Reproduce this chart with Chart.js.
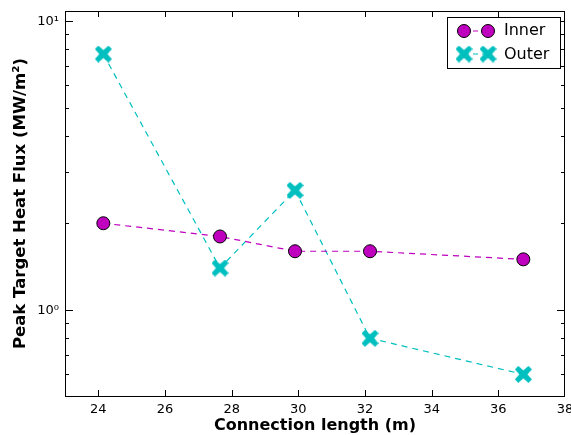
<!DOCTYPE html>
<html>
<head>
<meta charset="utf-8">
<script src="https://cdn.jsdelivr.net/npm/chart.js@4/dist/chart.umd.min.js"></script>
<style>
  html, body { margin: 0; padding: 0; background: #fff; }
  #wrap { width: 571px; height: 435px; }
</style>
</head>
<body>
<div id="wrap"><canvas id="fluxChart" width="571" height="435"></canvas></div>
<script>
// Data
const connLength = [24.15, 27.65, 29.9, 32.15, 36.75];
const innerFlux = [2.0, 1.8, 1.6, 1.6, 1.5];
const outerFlux = [7.7, 1.4, 2.6, 0.8, 0.6];
const xTicks = [24, 26, 28, 30, 32, 34, 36, 38];
const yTicks = [0.6, 0.7, 0.8, 0.9, 1, 2, 3, 4, 5, 6, 7, 8, 9, 10];

const magenta = '#bf00bf';
const cyan = '#00bfbf';
const font = 'DejaVu Sans';
const dash = [6, 5];

// filled "X" marker like matplotlib's 'X'
function makeX(size, color) {
    const c = document.createElement('canvas');
    c.width = size; c.height = size;
    const g = c.getContext('2d');
    const s = size / 2, w = size * 0.2;
    g.translate(s, s);
    g.fillStyle = color;
    g.beginPath();
    const pts = [[-s + w, -s], [0, -w * 1.2], [s - w, -s], [s, -s + w], [w * 1.2, 0], [s, s - w],
                 [s - w, s], [0, w * 1.2], [-s + w, s], [-s, s - w], [-w * 1.2, 0], [-s, -s + w]];
    pts.forEach((p, i) => i ? g.lineTo(p[0], p[1]) : g.moveTo(p[0], p[1]));
    g.closePath();
    g.fill();
    return c;
}
const xMarker = makeX(17, cyan);

function drawCircle(ctx, x, y) {
    ctx.beginPath();
    ctx.arc(x, y, 6.5, 0, Math.PI * 2);
    ctx.fillStyle = magenta;
    ctx.fill();
    ctx.lineWidth = 1;
    ctx.strokeStyle = '#000';
    ctx.stroke();
}

// box, inward ticks and legend, matplotlib style
const framePlugin = {
    id: 'frame',
    afterDatasetsDraw(chart) {
        const { ctx, chartArea: a, scales } = chart;
        ctx.save();
        ctx.strokeStyle = '#000';
        ctx.lineWidth = 1;
        ctx.strokeRect(a.left + 0.5, a.top + 0.5, a.right - a.left - 1, a.bottom - a.top);
        ctx.beginPath();
        xTicks.forEach(v => {
            const px = Math.round(scales.x.getPixelForValue(v)) + 0.5;
            if (px > a.right) return;
            ctx.moveTo(px, a.bottom); ctx.lineTo(px, a.bottom - 6);
            ctx.moveTo(px, a.top); ctx.lineTo(px, a.top + 6);
        });
        yTicks.forEach(v => {
            const py = Math.round(scales.y.getPixelForValue(v)) + 0.5;
            const len = (v === 1 || v === 10) ? 8 : 4;
            ctx.moveTo(a.left, py); ctx.lineTo(a.left + len, py);
            ctx.moveTo(a.right, py); ctx.lineTo(a.right - len, py);
        });
        ctx.stroke();

        // legend
        const lx = 447, ly = 17, lw = 113, lh = 51;
        ctx.fillStyle = '#fff';
        ctx.fillRect(lx, ly, lw, lh);
        ctx.strokeRect(lx + 0.5, ly + 0.5, lw, lh);
        ctx.setLineDash([5, 4]);
        ctx.strokeStyle = magenta;
        ctx.beginPath(); ctx.moveTo(464, 31); ctx.lineTo(488, 31); ctx.stroke();
        ctx.strokeStyle = cyan;
        ctx.beginPath(); ctx.moveTo(464, 54); ctx.lineTo(488, 54); ctx.stroke();
        ctx.setLineDash([]);
        drawCircle(ctx, 464, 31);
        drawCircle(ctx, 488, 31);
        ctx.drawImage(xMarker, 464 - 8.5, 54 - 8.5);
        ctx.drawImage(xMarker, 488 - 8.5, 54 - 8.5);
        ctx.fillStyle = '#000';
        ctx.font = '16px "' + font + '"';
        ctx.textBaseline = 'middle';
        ctx.fillText('Inner', 504, 31);
        ctx.fillText('Outer', 504, 55);
        ctx.restore();
    }
};

const fluxCtx = document.getElementById('fluxChart').getContext('2d');
const fluxChart = new Chart(fluxCtx, {
    type: 'line',
    data: {
        datasets: [{
            label: 'Inner',
            data: connLength.map((x, i) => ({ x: x, y: innerFlux[i] })),
            borderColor: magenta,
            borderWidth: 1.2,
            borderDash: dash,
            pointStyle: 'circle',
            pointRadius: 6.5,
            pointBackgroundColor: magenta,
            pointBorderColor: '#000',
            pointBorderWidth: 1,
            tension: 0
        }, {
            label: 'Outer',
            data: connLength.map((x, i) => ({ x: x, y: outerFlux[i] })),
            borderColor: cyan,
            borderWidth: 1.2,
            borderDash: dash,
            pointStyle: xMarker,
            pointRadius: 8.5,
            tension: 0
        }]
    },
    options: {
        responsive: false,
        animation: false,
        layout: { autoPadding: false, padding: { top: 11, right: 6, left: 0, bottom: 0 } },
        plugins: {
            legend: { display: false },
            tooltip: { enabled: false }
        },
        scales: {
            x: {
                type: 'linear',
                min: 23,
                max: 38,
                afterBuildTicks: s => { s.ticks = xTicks.map(v => ({ value: v })); },
                afterFit: s => { s.height = 39; s.paddingRight = 0; s.paddingLeft = 0; },
                grid: { display: false, drawTicks: false },
                border: { display: false },
                ticks: {
                    color: '#000',
                    padding: 6,
                    maxRotation: 0,
                    autoSkip: false,
                    font: { family: font, size: 13 }
                },
                title: {
                    display: true,
                    text: 'Connection length (m)',
                    color: '#000',
                    padding: { top: 2, bottom: 0 },
                    font: { family: font, size: 16, weight: 'bold' }
                }
            },
            y: {
                type: 'logarithmic',
                min: 0.505,
                max: 10.85,
                afterBuildTicks: s => { s.ticks = yTicks.map(v => ({ value: v })); },
                afterFit: s => { s.width = 65; s.paddingTop = 0; s.paddingBottom = 0; },
                grid: { display: false, drawTicks: false },
                border: { display: false },
                ticks: {
                    color: '#000',
                    padding: 6,
                    autoSkip: false,
                    font: { family: font, size: 13 },
                    callback: v => v === 1 ? '10\u2070' : (v === 10 ? '10\u00b9' : '')
                },
                title: {
                    display: true,
                    text: 'Peak Target Heat Flux (MW/m\u00b2)',
                    color: '#000',
                    padding: { top: 11, bottom: 0 },
                    font: { family: font, size: 16.5, weight: 'bold' }
                }
            }
        }
    },
    plugins: [framePlugin]
});
</script>
</body>
</html>
